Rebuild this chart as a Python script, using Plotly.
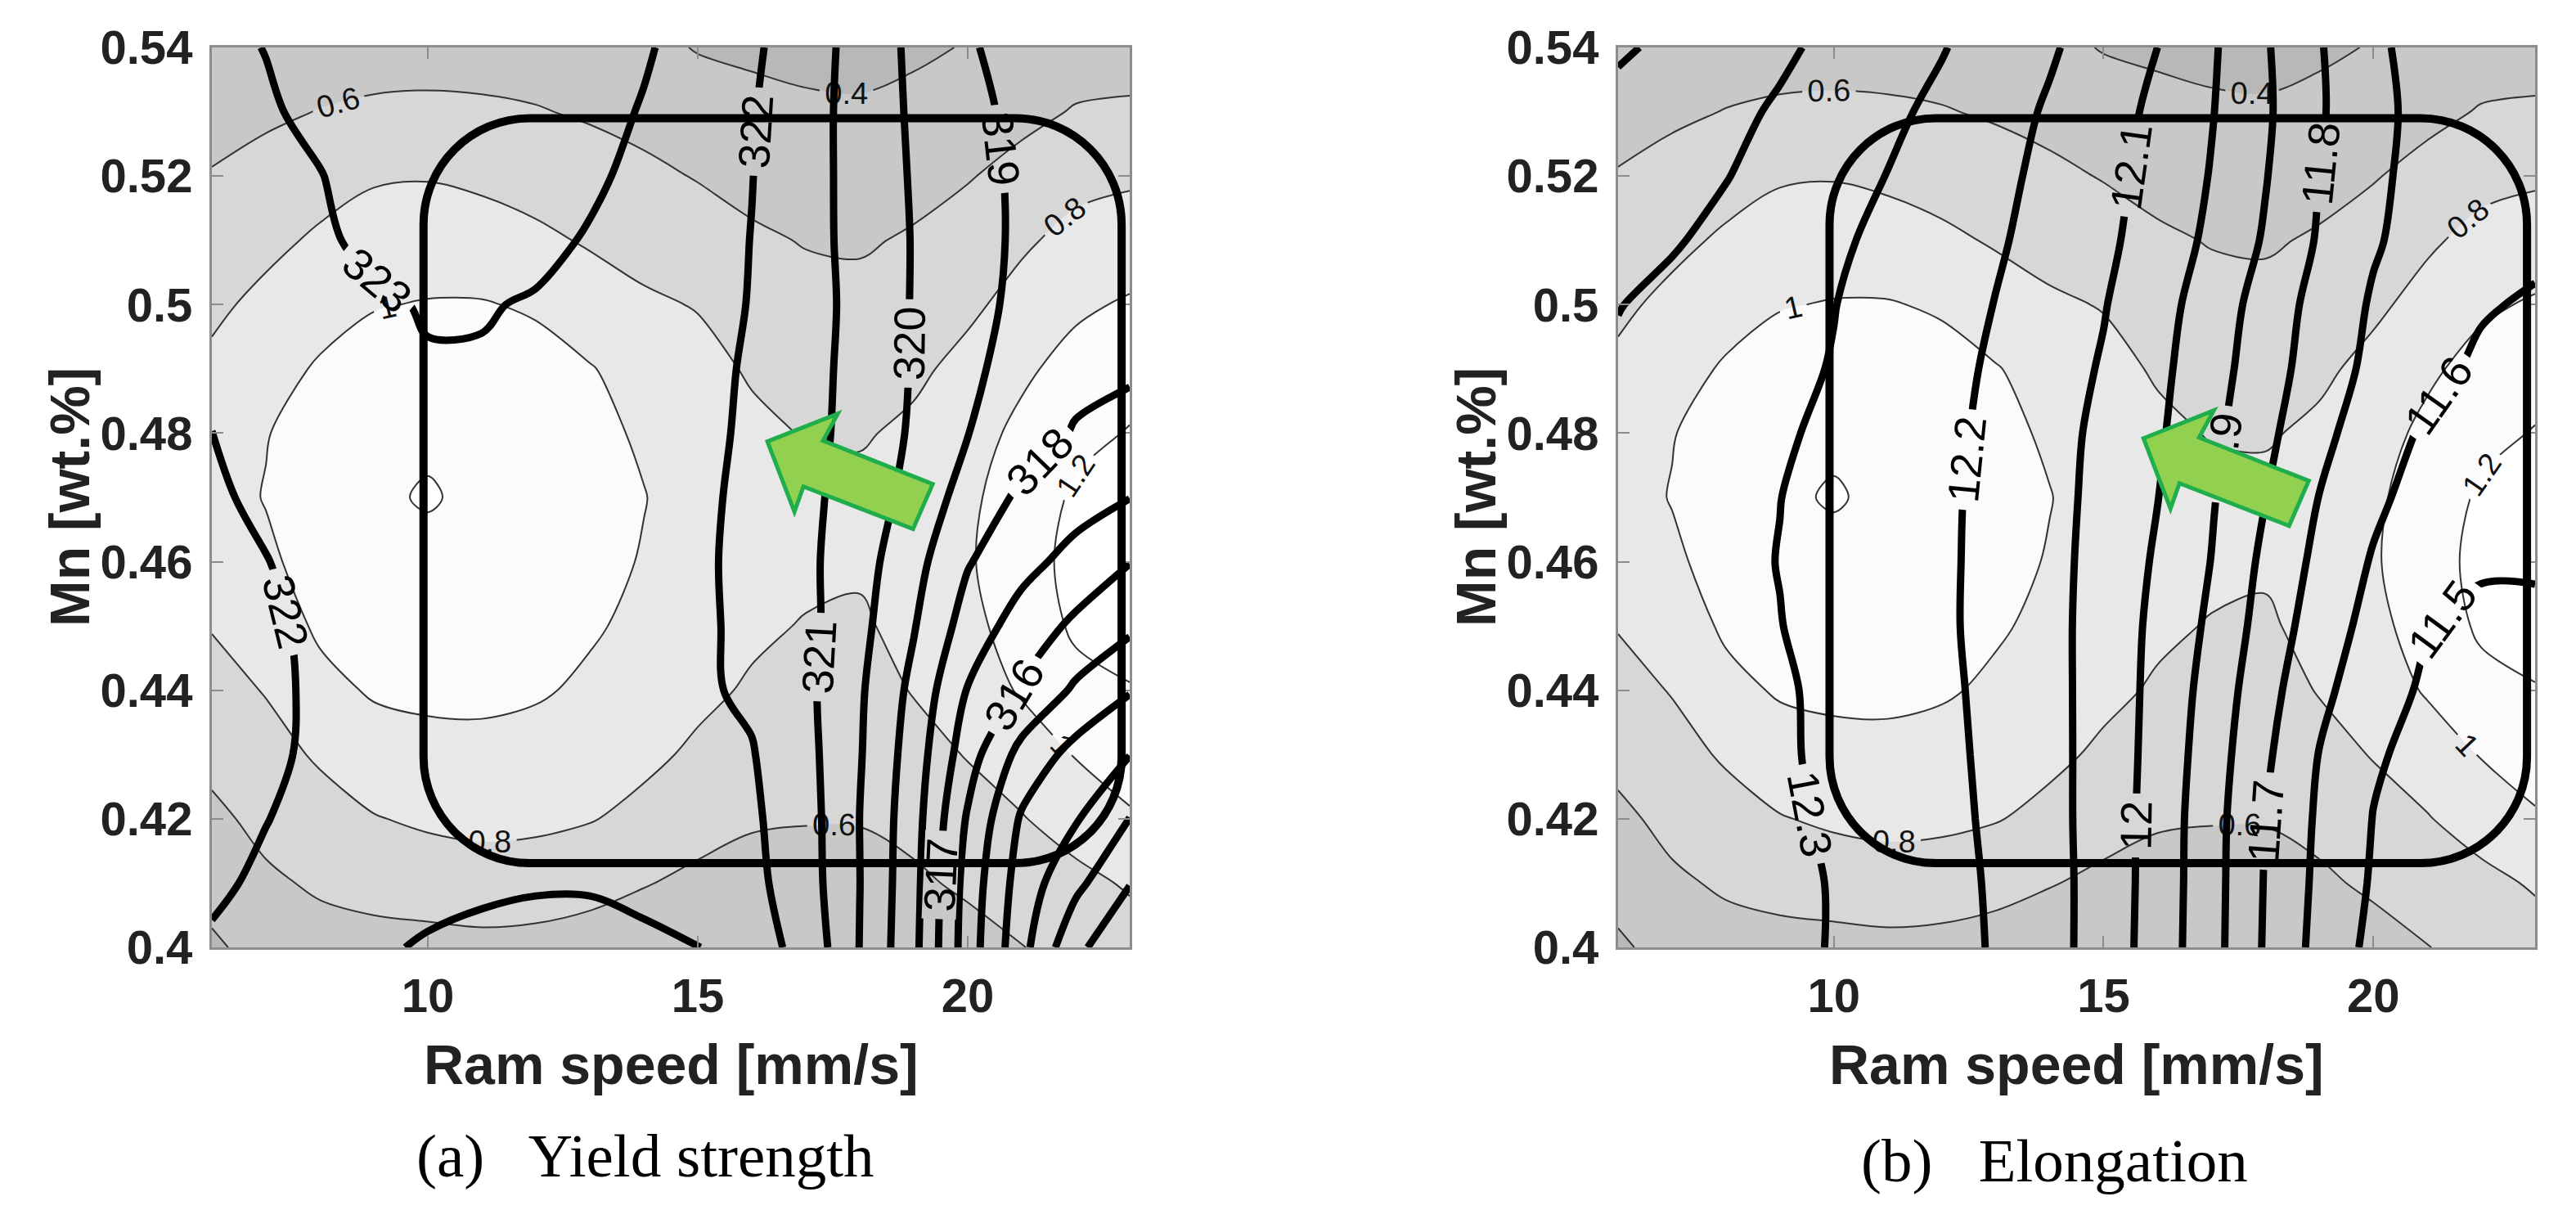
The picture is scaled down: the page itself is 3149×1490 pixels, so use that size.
import plotly.graph_objects as go

# ---------------- data ----------------
ram_speed = [6, 7, 8, 9, 10, 11, 12, 13, 14, 15, 16, 17, 18, 19, 20, 21, 22, 23]
mn = [0.40, 0.41, 0.42, 0.43, 0.44, 0.45, 0.46, 0.47, 0.48, 0.49, 0.50, 0.51, 0.52, 0.53, 0.54]

# composite desirability (gray filled map, identical in both panels); rows follow mn
desirability = [
    [0.37, 0.47, 0.53, 0.54, 0.54, 0.55, 0.54, 0.52, 0.48, 0.46, 0.44, 0.44, 0.45, 0.49, 0.53, 0.595, 0.66, 0.72],
    [0.47, 0.57, 0.625, 0.66, 0.69, 0.71, 0.70, 0.66, 0.61, 0.56, 0.53, 0.52, 0.53, 0.57, 0.63, 0.70, 0.75, 0.82],
    [0.56, 0.65, 0.72, 0.79, 0.83, 0.85, 0.84, 0.81, 0.75, 0.67, 0.62, 0.61, 0.61, 0.65, 0.72, 0.79, 0.88, 0.98],
    [0.65, 0.73, 0.824, 0.91, 0.94, 0.95, 0.93, 0.89, 0.84, 0.77, 0.70, 0.67, 0.66, 0.73, 0.81, 0.89, 1.01, 1.08],
    [0.73, 0.81, 0.944, 1.02, 1.04, 1.04, 1.02, 0.97, 0.91, 0.84, 0.78, 0.73, 0.72, 0.81, 0.89, 1.02, 1.14, 1.19],
    [0.81, 0.89, 1.03, 1.09, 1.11, 1.10, 1.07, 1.02, 0.96, 0.89, 0.83, 0.79, 0.77, 0.87, 0.95, 1.08, 1.23, 1.27],
    [0.87, 0.96, 1.09, 1.14, 1.15, 1.14, 1.11, 1.05, 0.99, 0.92, 0.87, 0.84, 0.83, 0.91, 0.98, 1.11, 1.26, 1.31],
    [0.91, 1.01, 1.12, 1.17, 1.215, 1.16, 1.13, 1.06, 1.005, 0.93, 0.88, 0.85, 0.85, 0.90, 0.97, 1.08, 1.23, 1.29],
    [0.89, 0.99, 1.10, 1.15, 1.17, 1.15, 1.11, 1.04, 0.98, 0.91, 0.84, 0.79, 0.78, 0.84, 0.93, 1.04, 1.15, 1.21],
    [0.84, 0.93, 1.02, 1.08, 1.11, 1.10, 1.06, 1.01, 0.93, 0.86, 0.78, 0.72, 0.71, 0.76, 0.86, 0.97, 1.06, 1.13],
    [0.76, 0.85, 0.93, 0.99, 1.01, 1.01, 0.98, 0.90, 0.83, 0.79, 0.70, 0.66, 0.65, 0.69, 0.76, 0.87, 0.97, 1.02],
    [0.68, 0.75, 0.83, 0.89, 0.90, 0.89, 0.84, 0.78, 0.73, 0.69, 0.63, 0.59, 0.58, 0.62, 0.67, 0.77, 0.86, 0.90],
    [0.61, 0.66, 0.72, 0.78, 0.79, 0.76, 0.72, 0.68, 0.64, 0.59, 0.54, 0.51, 0.50, 0.54, 0.59, 0.65, 0.74, 0.77],
    [0.54, 0.57, 0.605, 0.63, 0.64, 0.63, 0.61, 0.58, 0.54, 0.49, 0.45, 0.43, 0.42, 0.45, 0.49, 0.56, 0.61, 0.62],
    [0.48, 0.50, 0.52, 0.52, 0.52, 0.52, 0.52, 0.50, 0.45, 0.39, 0.37, 0.35, 0.35, 0.37, 0.41, 0.48, 0.53, 0.54],
]

# yield strength (thick lines, panel a)
yield_strength = [
    [322.15, 322.5, 322.75, 322.93, 323.05, 323.15, 323.2, 323.2, 323.12, 323.03, 322.4, 321.7, 319.98, 318.27, 315.5, 313.33, 311.2, 310.3],
    [321.8, 322.2, 322.5, 322.75, 322.85, 322.9, 322.95, 322.95, 322.85, 322.6, 322.25, 321.46, 320.01, 318.34, 315.6, 313.55, 312.25, 311.03],
    [321.5, 321.97, 322.35, 322.6, 322.7, 322.75, 322.75, 322.7, 322.55, 322.35, 322.15, 321.42, 319.99, 318.42, 315.89, 313.88, 313.08, 311.98],
    [321.3, 321.75, 322.25, 322.55, 322.65, 322.65, 322.6, 322.5, 322.3, 322.25, 322.05, 321.31, 320.07, 318.55, 316.44, 314.67, 313.67, 313.02],
    [321.3, 321.75, 322.2, 322.5, 322.6, 322.6, 322.55, 322.45, 322.25, 322.12, 321.87, 321.23, 320.13, 318.75, 316.95, 315.89, 314.84, 314.07],
    [321.4, 321.8, 322.25, 322.55, 322.65, 322.65, 322.6, 322.5, 322.3, 322.15, 321.8, 321.28, 320.28, 319.06, 317.58, 316.56, 315.81, 315.19],
    [321.6, 321.97, 322.35, 322.6, 322.7, 322.7, 322.65, 322.55, 322.35, 322.15, 321.76, 321.22, 320.4, 319.33, 318.07, 317.32, 316.66, 316.03],
    [321.85, 322.2, 322.5, 322.7, 322.8, 322.8, 322.75, 322.6, 322.4, 322.2, 321.77, 321.24, 320.56, 319.67, 318.6, 317.83, 317.42, 317.02],
    [321.99, 322.35, 322.6, 322.75, 322.85, 322.85, 322.8, 322.7, 322.5, 322.25, 321.84, 321.3, 320.65, 319.87, 319.02, 318.41, 317.93, 317.7],
    [322.3, 322.5, 322.7, 322.85, 322.95, 322.95, 322.85, 322.75, 322.6, 322.3, 321.88, 321.33, 320.69, 319.93, 319.21, 318.6, 318.25, 318.12],
    [322.45, 322.65, 322.82, 322.9, 323.05, 323.04, 322.95, 322.85, 322.7, 322.4, 321.95, 321.4, 320.7, 319.94, 319.29, 318.8, 318.45, 318.3],
    [322.55, 322.7, 322.9, 323.15, 323.3, 323.3, 323.15, 322.95, 322.75, 322.45, 321.98, 321.35, 320.68, 319.95, 319.34, 318.85, 318.6, 318.5],
    [322.6, 322.8, 322.97, 323.35, 323.55, 323.55, 323.35, 323.1, 322.85, 322.5, 322.02, 321.36, 320.66, 319.91, 319.3, 318.85, 318.7, 318.65],
    [322.7, 322.9, 323.2, 323.6, 323.75, 323.75, 323.55, 323.25, 322.95, 322.55, 322.06, 321.4, 320.62, 319.86, 319.22, 318.8, 318.65, 318.6],
    [322.8, 323.02, 323.4, 323.7, 323.9, 323.9, 323.7, 323.4, 323.08, 322.7, 322.16, 321.46, 320.64, 319.8, 319.07, 318.75, 318.65, 318.6],
]

# elongation (thick lines, panel b)
elongation = [
    [12.38, 12.365, 12.345, 12.324, 12.295, 12.262, 12.229, 12.193, 12.134, 12.058, 11.955, 11.836, 11.69, 11.569, 11.475, 11.455, 11.44, 11.43],
    [12.38, 12.365, 12.345, 12.324, 12.295, 12.261, 12.228, 12.19, 12.133, 12.06, 11.958, 11.838, 11.694, 11.578, 11.49, 11.46, 11.44, 11.43],
    [12.38, 12.36, 12.34, 12.318, 12.286, 12.255, 12.223, 12.186, 12.13, 12.06, 11.96, 11.84, 11.70, 11.585, 11.498, 11.465, 11.445, 11.435],
    [12.375, 12.355, 12.335, 12.312, 12.282, 12.251, 12.22, 12.182, 12.13, 12.06, 11.966, 11.85, 11.716, 11.597, 11.51, 11.475, 11.455, 11.445],
    [12.37, 12.35, 12.33, 12.311, 12.28, 12.249, 12.217, 12.178, 12.128, 12.062, 11.97, 11.864, 11.735, 11.624, 11.543, 11.485, 11.47, 11.46],
    [12.365, 12.345, 12.323, 12.302, 12.271, 12.242, 12.213, 12.175, 12.127, 12.063, 11.976, 11.882, 11.759, 11.651, 11.568, 11.503, 11.475, 11.474],
    [12.36, 12.34, 12.32, 12.298, 12.271, 12.243, 12.214, 12.175, 12.128, 12.067, 11.988, 11.898, 11.778, 11.675, 11.592, 11.54, 11.513, 11.514],
    [12.36, 12.34, 12.32, 12.301, 12.272, 12.243, 12.215, 12.177, 12.13, 12.073, 12.002, 11.909, 11.802, 11.698, 11.62, 11.56, 11.53, 11.525],
    [12.37, 12.35, 12.33, 12.31, 12.284, 12.252, 12.22, 12.181, 12.133, 12.079, 12.014, 11.924, 11.825, 11.725, 11.65, 11.585, 11.55, 11.54],
    [12.385, 12.36, 12.34, 12.32, 12.296, 12.26, 12.226, 12.188, 12.141, 12.092, 12.024, 11.94, 11.845, 11.751, 11.676, 11.623, 11.585, 11.565],
    [12.403, 12.377, 12.351, 12.326, 12.302, 12.266, 12.232, 12.198, 12.151, 12.105, 12.036, 11.955, 11.86, 11.765, 11.69, 11.65, 11.608, 11.59],
    [12.43, 12.408, 12.377, 12.345, 12.314, 12.28, 12.245, 12.21, 12.17, 12.12, 12.057, 11.98, 11.89, 11.79, 11.71, 11.66, 11.64, 11.62],
    [12.45, 12.425, 12.403, 12.368, 12.333, 12.298, 12.26, 12.222, 12.178, 12.128, 12.07, 11.995, 11.905, 11.799, 11.72, 11.665, 11.65, 11.64],
    [12.47, 12.445, 12.42, 12.39, 12.355, 12.318, 12.28, 12.235, 12.19, 12.14, 12.08, 12.005, 11.915, 11.81, 11.73, 11.665, 11.65, 11.64],
    [12.513, 12.48, 12.447, 12.414, 12.38, 12.34, 12.305, 12.26, 12.21, 12.16, 12.1, 12.013, 11.91, 11.807, 11.72, 11.66, 11.645, 11.635],
]

y_tick_vals = [0.40, 0.42, 0.44, 0.46, 0.48, 0.50, 0.52, 0.54]
y_tick_text = ["0.4", "0.42", "0.44", "0.46", "0.48", "0.5", "0.52", "0.54"]
x_tick_vals = [10, 15, 20]
captions = ["(a)\u2002 Yield strength", "(b)\u2002 Elongation"]

# ---------------- layout geometry (pixels) ----------------
W, H = 3149, 1490
PANEL_X = [(259, 1381), (1978, 3099)]
PANEL_Y = (58, 1158)
X_RANGE = (6, 23)
Y_RANGE = (0.40, 0.54)

def to_px(panel, xd, yd):
    x0, x1 = PANEL_X[panel]
    y0, y1 = PANEL_Y
    px = x0 + (xd - X_RANGE[0]) / (X_RANGE[1] - X_RANGE[0]) * (x1 - x0)
    py = y1 - (yd - Y_RANGE[0]) / (Y_RANGE[1] - Y_RANGE[0]) * (y1 - y0)
    return px, py

def paper(px, py):
    return px / W, 1 - py / H

gray_scale = [[0.0, "#b8b8b8"], [0.2, "#c8c8c8"], [0.4, "#d7d7d7"],
              [0.6, "#e8e8e8"], [0.8, "#fbfbfb"], [1.0, "#ffffff"]]

fig = go.Figure()

for i, (xa, ya) in enumerate([("x", "y"), ("x2", "y2")]):
    fig.add_trace(go.Contour(
        x=ram_speed, y=mn, z=desirability, xaxis=xa, yaxis=ya,
        contours=dict(start=0.4, end=1.2, size=0.2, coloring="fill",
                      showlabels=True, labelformat=".2~g",
                      labelfont=dict(family="Liberation Sans", size=38, color="#111111")),
        colorscale=gray_scale, showscale=False,
        line=dict(width=2, color="#333333", smoothing=1.0),
        hoverinfo="skip"))

fig.add_trace(go.Contour(
    x=ram_speed, y=mn, z=yield_strength, xaxis="x", yaxis="y",
    contours=dict(start=311, end=323, size=1, coloring="none",
                  showlabels=True, labelformat=".0f",
                  labelfont=dict(family="Liberation Sans", size=54, color="black")),
    showscale=False, line=dict(width=9, color="black", smoothing=1.0),
    hoverinfo="skip"))

fig.add_trace(go.Contour(
    x=ram_speed, y=mn, z=elongation, xaxis="x2", yaxis="y2",
    contours=dict(start=11.5, end=12.5, size=0.1, coloring="none",
                  showlabels=True, labelformat=".1~f",
                  labelfont=dict(family="Liberation Sans", size=54, color="black")),
    showscale=False, line=dict(width=9, color="black", smoothing=1.0),
    hoverinfo="skip"))

tickfont = dict(family="Liberation Sans", size=58, color="#222222", weight="bold")
axis_common = dict(showgrid=False, zeroline=False, showline=True, linecolor="#8c8c8c",
                   linewidth=3, mirror="ticks", ticks="inside", ticklen=14,
                   tickwidth=2, tickcolor="#8c8c8c", tickfont=tickfont, automargin=False)

ydom = [1 - PANEL_Y[1] / H, 1 - PANEL_Y[0] / H]
layout_axes = {}
for i, suffix in enumerate(["", "2"]):
    x0, x1 = PANEL_X[i]
    layout_axes["xaxis" + suffix] = dict(axis_common, domain=[x0 / W, x1 / W],
                                         range=list(X_RANGE), tickvals=x_tick_vals,
                                         ticklabelstandoff=6,
                                         anchor="y" + suffix)
    layout_axes["yaxis" + suffix] = dict(axis_common, domain=ydom, range=list(Y_RANGE),
                                         tickvals=y_tick_vals, ticktext=y_tick_text,
                                         ticklabelstandoff=9,
                                         anchor="x" + suffix)

shapes = []
annotations = []

# rounded rectangle (optimal window) and green arrow, in data units of each panel
RECT = (9.92, 22.85, 0.4131, 0.529)   # x0, x1, y0, y1
RADIUS_PX = 130
K = 0.5523
ARROW_TIPS = [(16.29, 0.4787), (15.74, 0.4792)]
ARROW_OFFS = [(0, 0), (86, -34), (68, -1), (202, 52), (178, 107), (44, 55), (33, 86)]

def P(px, py):
    a, b = paper(px, py)
    return f"{a:.6f},{b:.6f}"

for i in range(2):
    L, T = to_px(i, RECT[0], RECT[3])
    R, B = to_px(i, RECT[1], RECT[2])
    r = RADIUS_PX
    path = (f"M{P(L + r, T)} L{P(R - r, T)} "
            f"C{P(R - r + K * r, T)} {P(R, T + r - K * r)} {P(R, T + r)} "
            f"L{P(R, B - r)} "
            f"C{P(R, B - r + K * r)} {P(R - r + K * r, B)} {P(R - r, B)} "
            f"L{P(L + r, B)} "
            f"C{P(L + r - K * r, B)} {P(L, B - r + K * r)} {P(L, B - r)} "
            f"L{P(L, T + r)} "
            f"C{P(L, T + r - K * r)} {P(L + r - K * r, T)} {P(L + r, T)} Z")
    shapes.append(dict(type="path", xref="paper", yref="paper", path=path,
                       line=dict(color="black", width=10), fillcolor="rgba(0,0,0,0)",
                       layer="above"))

    tx, ty = to_px(i, *ARROW_TIPS[i])
    apath = "M" + " L".join(P(tx + dx, ty + dy) for dx, dy in ARROW_OFFS) + " Z"
    shapes.append(dict(type="path", xref="paper", yref="paper", path=apath,
                       line=dict(color="#1fae4b", width=5), fillcolor="#92d050",
                       layer="above"))

    # axis titles
    cx = (PANEL_X[i][0] + PANEL_X[i][1]) / 2
    ax_, ay_ = paper(cx, 1301)
    annotations.append(dict(text="Ram speed [mm/s]", x=ax_, y=ay_, xref="paper", yref="paper",
                            showarrow=False, xanchor="center", yanchor="middle",
                            font=dict(family="Liberation Sans", size=68, color="#222222",
                                      weight="bold")))
    bx, by = paper(PANEL_X[i][0] - 174, 608)
    annotations.append(dict(text="Mn [wt.%]", x=bx, y=by, xref="paper", yref="paper",
                            showarrow=False, xanchor="center", yanchor="middle", textangle=-90,
                            font=dict(family="Liberation Sans", size=68, color="#222222",
                                      weight="bold")))
    capx = [789, 2511][i]
    capy = [1412, 1418][i]
    qx, qy = paper(capx, capy)
    annotations.append(dict(text=captions[i], x=qx, y=qy, xref="paper", yref="paper",
                            showarrow=False, xanchor="center", yanchor="middle",
                            font=dict(family="Liberation Serif", size=75, color="black")))

fig.update_layout(width=W, height=H,
                  margin=dict(l=0, r=0, t=0, b=0, pad=0, autoexpand=False),
                  paper_bgcolor="white", plot_bgcolor="white", showlegend=False,
                  shapes=shapes, annotations=annotations, **layout_axes)

fig.write_html("out.html", config={"displayModeBar": False},
               post_script="document.body.style.margin='0';document.body.style.overflow='hidden';")
